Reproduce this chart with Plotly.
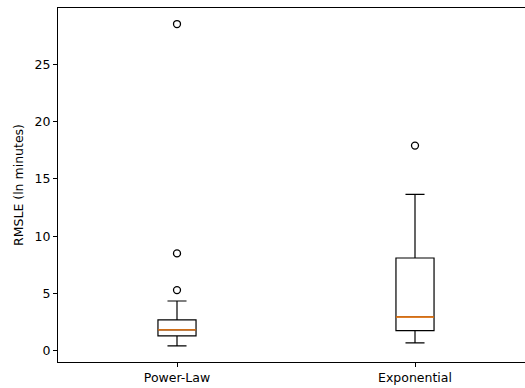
import plotly.graph_objects as go

# Data (RMSLE in ln minutes)
categories = ["Power-Law", "Exponential"]
positions = [1, 2]
lower_whisker = [0.43, 0.70]
q1_vals = [1.30, 1.77]
medians = [1.83, 2.96]
q3_vals = [2.70, 8.10]
upper_whisker = [4.35, 13.65]
outliers = [[28.5, 8.5, 5.3], [17.9]]
y_ticks = [0, 5, 10, 15, 20, 25]

BOX_W = 0.16
FONT = "DejaVu Sans"
X_RANGE = [0.5, 2.5]
Y_RANGE = [-0.97, 29.9]

fig = go.Figure()
for i, cat in enumerate(categories):
    fig.add_trace(go.Box(
        x=[positions[i]], q1=[q1_vals[i]], median=[medians[i]], q3=[q3_vals[i]],
        lowerfence=[lower_whisker[i]], upperfence=[upper_whisker[i]],
        width=BOX_W, whiskerwidth=0.5, fillcolor="rgba(0,0,0,0)",
        line=dict(color="black", width=1.2), boxpoints=False,
        name=cat, showlegend=False, hoverinfo="skip",
    ))
    fig.add_trace(go.Scatter(
        x=[positions[i]] * len(outliers[i]), y=outliers[i], mode="markers",
        marker=dict(symbol="circle-open", size=7, color="black", line=dict(width=1.3)),
        showlegend=False, hoverinfo="skip",
    ))
    # median line in orange, on an overlaid axis pair so it sits above the box
    fig.add_trace(go.Scatter(
        x=[positions[i] - BOX_W / 2, positions[i] + BOX_W / 2],
        y=[medians[i], medians[i]], mode="lines", xaxis="x2", yaxis="y2",
        line=dict(color="#ff7f0e", width=1.4), showlegend=False, hoverinfo="skip",
    ))

# The reference is cropped on the right: its right spine lies outside the picture.
fig.update_layout(
    width=536, height=388,
    margin=dict(l=58, r=2, t=8, b=26),
    paper_bgcolor="white", plot_bgcolor="white",
    font=dict(family=FONT, size=12.5, color="black"),
    xaxis=dict(
        range=X_RANGE, tickvals=positions, ticktext=categories,
        showline=True, mirror=True, linecolor="black", linewidth=1,
        ticks="outside", ticklen=4, tickcolor="black", showgrid=False, zeroline=False,
    ),
    yaxis=dict(
        range=Y_RANGE, tickvals=y_ticks,
        showline=True, mirror=True, linecolor="black", linewidth=1,
        ticks="outside", ticklen=4, tickcolor="black", showgrid=False, zeroline=False,
        title=dict(text="RMSLE (ln minutes)", font=dict(size=12.5), standoff=8),
    ),
    xaxis2=dict(range=X_RANGE, overlaying="x", visible=False),
    yaxis2=dict(range=Y_RANGE, overlaying="y", visible=False),
)

fig.write_html(
    "out.html",
    config={"displayModeBar": False},
    post_script="document.body.style.margin='0';document.body.style.overflow='hidden';",
)
